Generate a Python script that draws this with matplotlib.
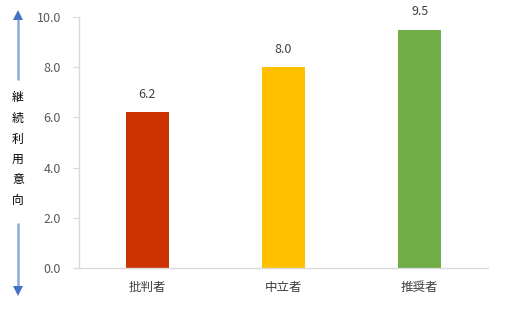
import matplotlib
matplotlib.use("Agg")
import matplotlib.pyplot as plt
from matplotlib.lines import Line2D

plt.rcParams['font.family'] = ['Noto Sans CJK JP', 'DejaVu Sans']

categories = ["批判者", "中立者", "推奨者"]
values = [6.2, 8.0, 9.5]
colors = ["#CC3300", "#FFC000", "#70AD47"]
yticks = [0, 2, 4, 6, 8, 10]
ylabel_chars = "継続利用意向"

W, H = 506, 326
fig = plt.figure(figsize=(W / 100, H / 100), dpi=100)
ax = fig.add_axes([79 / W, 1 - 268 / H, 409 / W, 251 / H])

x = range(len(categories))
ax.bar(x, values, width=0.315, color=colors)
for xi, v in zip(x, values):
    ax.annotate(f"{v:.1f}", (xi, v), xytext=(0, 8), textcoords="offset points",
                ha="center", va="bottom", fontsize=9, color="#404040")

ax.set_xlim(-0.5, len(categories) - 0.5)
ax.set_ylim(0, 10)
ax.set_yticks(yticks)
ax.set_yticklabels([f"{t:.1f}" for t in yticks])
ax.set_xticks(list(x))
ax.set_xticklabels(categories)

for s in ["top", "right"]:
    ax.spines[s].set_visible(False)
for s in ["left", "bottom"]:
    ax.spines[s].set_color("#D9D9D9")
    ax.spines[s].set_linewidth(1.0)

ax.tick_params(axis="y", length=4, color="#D9D9D9", labelsize=9,
               labelcolor="#595959", pad=9)
ax.tick_params(axis="x", length=0, labelsize=9, labelcolor="#404040", pad=9)


def fx(px):
    return px / W


def fy(py):
    return 1 - py / H


# vertical axis caption with arrows above and below
ax_x = fx(18)
for y0, y1, head in [(80, 15, "^"), (223, 291, "v")]:
    fig.add_artist(Line2D([ax_x, ax_x], [fy(y0), fy(y1)], transform=fig.transFigure,
                          color="#8FAADC", lw=1.8, solid_capstyle="butt"))
    fig.add_artist(Line2D([ax_x], [fy(y1)], transform=fig.transFigure,
                          marker=head, markersize=7, color="#4472C4",
                          markeredgewidth=0, linestyle="none"))
for i, ch in enumerate(ylabel_chars):
    fig.text(ax_x, fy(98 + i * 20.5), ch, ha="center", va="center",
             fontsize=8.5, color="#000000")

fig.savefig("out.png", dpi=100)
